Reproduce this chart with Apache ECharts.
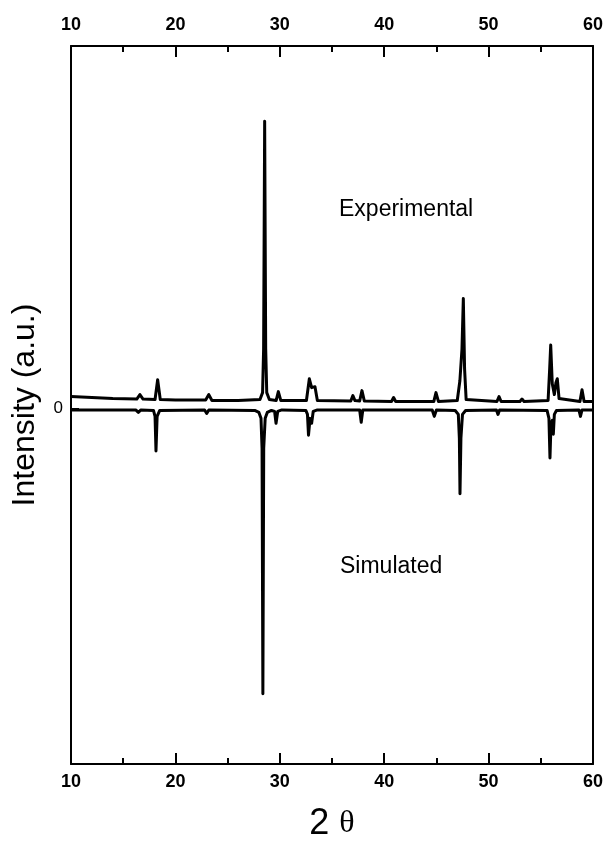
<!DOCTYPE html>
<html>
<head>
<meta charset="utf-8">
<script src="https://cdn.jsdelivr.net/npm/echarts@6/dist/echarts.min.js"></script>
<style>
html,body{margin:0;padding:0;background:#fff;}
#chart{width:606px;height:847px;}
</style>
</head>
<body>
<div id="chart"></div>
<script>
// 2-theta tick labels
var thetaTicks = [10, 20, 30, 40, 50, 60];

// Experimental pattern (2θ, intensity a.u.)
var expTheta = [10.0, 12.0, 14.0, 16.3, 16.6, 16.9, 18.05, 18.3, 18.55, 20.0, 22.9, 23.2, 23.5, 26.0,
  28.1, 28.35, 28.45, 28.55, 28.65, 28.75, 29.0, 29.65, 29.86, 30.1, 32.55, 32.83, 33.05, 33.2, 33.37, 33.6,
  36.8, 37.0, 37.2, 37.65, 37.87, 38.1, 40.7, 40.9, 41.1, 44.75, 44.96, 45.2,
  47.0, 47.25, 47.35, 47.45, 47.58, 47.7, 47.85, 50.8, 51.0, 51.2, 53.0, 53.2, 53.4,
  55.7, 55.85, 55.95, 56.1, 56.3, 56.45, 56.58, 56.75, 58.75, 58.95, 59.15, 60.0];
var expIntensity = [12, 11, 10, 9.5, 14, 9.5, 9, 29, 9, 8.5, 8.5, 14, 8, 8,
  9, 16, 60, 290, 60, 16, 9, 8, 17, 8, 8, 30, 21, 19, 22, 8,
  7.5, 13, 8, 7.5, 18, 7.5, 7, 11, 7, 7, 16, 7,
  8, 28, 30, 60, 111, 40, 9, 7, 12, 7, 7, 9.5, 7,
  8, 40, 64, 25, 14, 26, 30, 10, 7, 19, 7, 7];

// Simulated pattern (plotted inverted)
var simTheta = [10.0, 16.2, 16.45, 16.7, 17.9, 18.05, 18.14, 18.25, 18.5, 22.8, 23.0, 23.2,
  27.6, 28.0, 28.2, 28.3, 28.38, 28.46, 28.6, 28.8, 29.2, 29.5, 29.64, 29.8, 30.2,
  32.5, 32.65, 32.75, 32.9, 33.05, 33.2, 33.6, 37.65, 37.8, 37.95, 44.6, 44.8, 45.0,
  46.8, 47.1, 47.2, 47.26, 47.35, 47.5, 47.8, 50.75, 50.9, 51.05,
  55.6, 55.78, 55.88, 55.98, 56.1, 56.2, 56.3, 56.5, 58.65, 58.8, 58.95, 60.0];
var simIntensity = [-1.5, -1.5, -4, -1.5, -2, -8, -43, -8, -2, -1.5, -5, -1.5,
  -2, -4, -10, -40, -288, -40, -10, -4, -2, -3, -15, -3, -1.5,
  -2, -6, -27, -10, -15, -3, -1.5, -1.5, -14, -1.5, -1.5, -8, -1.5,
  -2, -6, -30, -86, -30, -6, -2, -1.5, -6, -1.5,
  -2, -10, -50, -15, -12, -26, -6, -2, -1.5, -8, -1.5, -1.5];

var curveLabels = ['Experimental', 'Simulated'];
var yZeroTick = [0];

function zip(a, b) { return a.map(function (v, i) { return [v, b[i]]; }); }

var FONT = 'Liberation Sans, Arial, sans-serif';
var chart = echarts.init(document.getElementById('chart'), null, {renderer: 'canvas'});

function xAxisDef(pos, withName) {
  var ax = {
    type: 'value', position: pos, min: 10, max: 60, interval: 10,
    axisLine: {show: true, onZero: false, lineStyle: {color: '#000', width: 2}},
    axisTick: {show: true, inside: true, length: 11, lineStyle: {color: '#000', width: 2}},
    minorTick: {show: true, splitNumber: 2, length: 6, lineStyle: {color: '#000', width: 2}},
    splitLine: {show: false},
    axisLabel: {show: true, color: '#000', fontSize: 18, fontWeight: 'bold', fontFamily: FONT,
      margin: pos === 'top' ? 12 : 9,
      formatter: function (v) { return thetaTicks.indexOf(v) >= 0 ? String(v) : ''; }}
  };
  if (withName) {
    ax.name = '{a|2 }{b|θ}';
    ax.nameLocation = 'middle';
    ax.nameGap = 42;
    ax.nameTextStyle = {color: '#000', rich: {
      a: {fontSize: 36, fontFamily: FONT, color: '#000'},
      b: {fontSize: 32, fontFamily: 'Liberation Serif, DejaVu Serif, serif', color: '#000'}
    }};
  }
  return ax;
}

var option = {
  animation: false,
  backgroundColor: '#fff',
  grid: {left: 71, right: 13, top: 46, bottom: 76, containLabel: false},
  xAxis: [xAxisDef('bottom', true), xAxisDef('top', false)],
  yAxis: [
    {
      type: 'value', position: 'left', min: -359, max: 366,
      axisLine: {show: true, onZero: false, lineStyle: {color: '#000', width: 2}},
      axisTick: {show: true, inside: true, length: 8, customValues: yZeroTick, lineStyle: {color: '#000', width: 2}},
      axisLabel: {show: true, customValues: yZeroTick, color: '#000', fontSize: 17, fontFamily: FONT, margin: 8},
      splitLine: {show: false},
      name: 'Intensity (a.u.)', nameLocation: 'middle', nameGap: 30,
      nameTextStyle: {fontSize: 32, fontFamily: FONT, color: '#000'}
    },
    {
      type: 'value', position: 'right', min: -359, max: 366,
      axisLine: {show: true, onZero: false, lineStyle: {color: '#000', width: 2}},
      axisTick: {show: false}, axisLabel: {show: false}, splitLine: {show: false}
    }
  ],
  series: [
    {type: 'line', name: curveLabels[0], data: zip(expTheta, expIntensity), showSymbol: false,
      lineStyle: {color: '#000', width: 3, join: 'round'}, itemStyle: {color: '#000'}},
    {type: 'line', name: curveLabels[1], data: zip(simTheta, simIntensity), showSymbol: false,
      lineStyle: {color: '#000', width: 3, join: 'round'}, itemStyle: {color: '#000'}}
  ],
  graphic: [
    {type: 'text', x: 339, y: 210, style: {text: curveLabels[0], fontSize: 23, fontFamily: FONT, fill: '#000', verticalAlign: 'middle'}},
    {type: 'text', x: 340, y: 567, style: {text: curveLabels[1], fontSize: 23, fontFamily: FONT, fill: '#000', verticalAlign: 'middle'}}
  ]
};
chart.setOption(option);
</script>
</body>
</html>
